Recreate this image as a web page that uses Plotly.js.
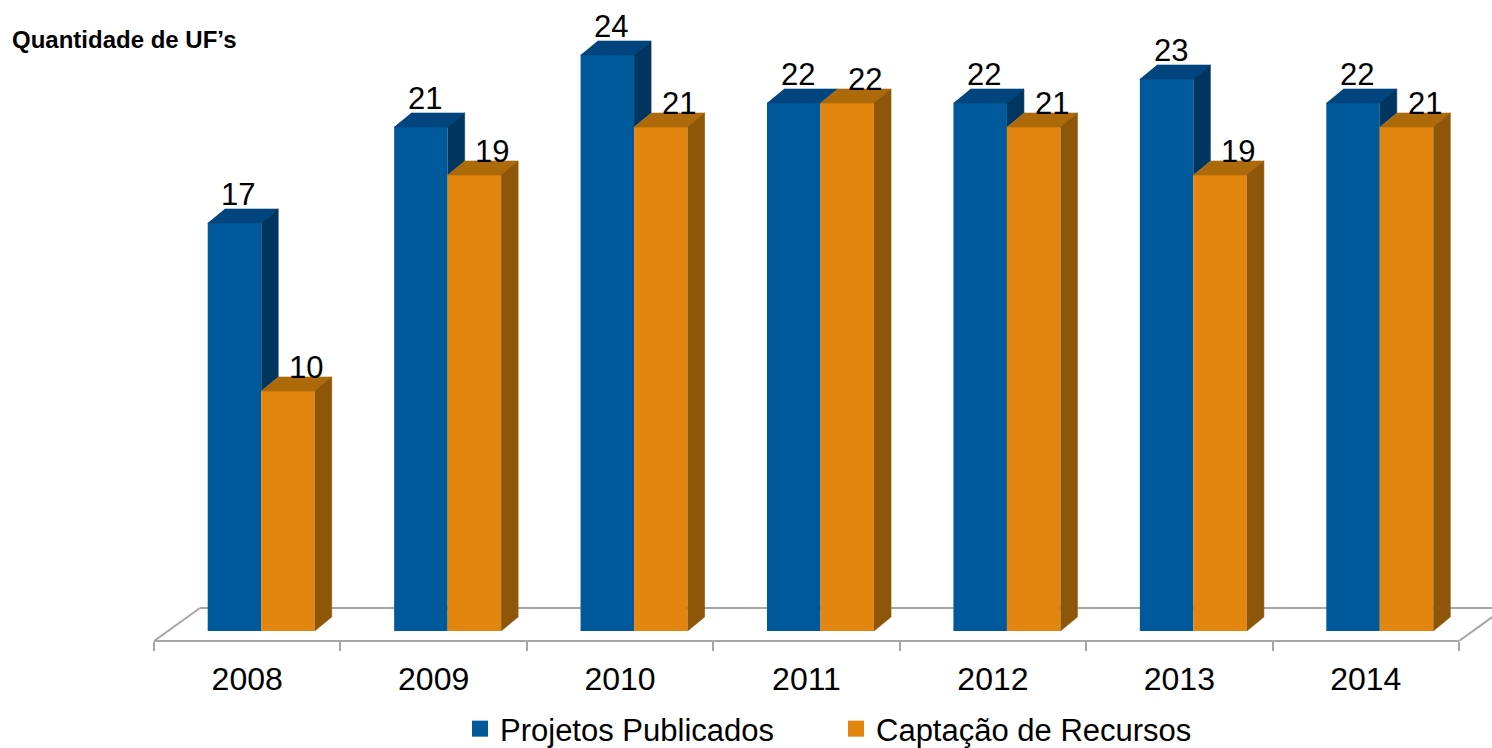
<!DOCTYPE html>
<html>
<head>
<meta charset="utf-8">
<script src="https://cdn.plot.ly/plotly-3.0.1.min.js"></script>
<style>html,body{margin:0;padding:0;background:#fff;}#chart{width:1492px;height:748px;}</style>
</head>
<body>
<div id="chart"></div>
<script>
// ---- data ----
const years = ['2008', '2009', '2010', '2011', '2012', '2013', '2014'];
const projetosPublicados = [17, 21, 24, 22, 22, 23, 22];
const captacaoRecursos = [10, 19, 21, 22, 21, 19, 21];
const seriesNames = ['Projetos Publicados', 'Captação de Recursos'];
const titleText = 'Quantidade de UF’s';

// ---- layout geometry (pixels) ----
const W = 1492, H = 748;
const plotBottom = 641, axisLeft = 154, axisRight = 1459;
const baselinePx = 631, pxPerValue = 24;
const catPx = (axisRight - axisLeft) / years.length;
const xMin = -0.5 - axisLeft / catPx;
const xMax = years.length - 0.5 + (W - axisRight) / catPx;
const yMin = -(plotBottom - baselinePx) / pxPerValue;
const yMax = baselinePx / pxPerValue;
const barW = 53.5 / catPx, pairShift = 14 / catPx;
const dX = 17 / catPx, dY = 14 / pxPerValue;
const floorDX = 46 / catPx, floorDY = 33 / pxPerValue;

const FONT = 'Liberation Sans, Arial, sans-serif';
const blue = {front: 'rgb(0,89,154)', top: 'rgb(1,69,126)', side: 'rgb(0,54,96)'};
const orange = {front: 'rgb(226,134,16)', top: 'rgb(173,106,11)', side: 'rgb(142,86,8)'};

const idx = years.map((_, i) => i);

function polyTrace(polys, color) {
  const x = [], y = [];
  polys.forEach(p => { p.forEach(pt => { x.push(pt[0]); y.push(pt[1]); }); x.push(null); y.push(null); });
  return {type: 'scatter', mode: 'lines', x, y, fill: 'toself', fillcolor: color,
    line: {width: 0.6, color: color}, hoverinfo: 'skip', showlegend: false};
}

const blueTops = [], blueSides = [], orangeTops = [], orangeSides = [];
idx.forEach(i => {
  const vb = projetosPublicados[i], vo = captacaoRecursos[i];
  const bl = i + pairShift - barW, br = i + pairShift, or = br + barW;
  blueTops.push([[bl, vb], [br, vb], [br + dX, vb + dY], [bl + dX, vb + dY]]);
  if (vb > vo) blueSides.push([[br, vo], [br + dX, vo + dY], [br + dX, vb + dY], [br, vb]]);
  orangeTops.push([[br, vo], [or, vo], [or + dX, vo + dY], [br + dX, vo + dY]]);
  orangeSides.push([[or, 0], [or + dX, dY], [or + dX, vo + dY], [or, vo]]);
});

const traces = [
  {type: 'bar', x: idx, y: projetosPublicados, base: 0, width: barW, offset: pairShift - barW,
   marker: {color: blue.front, line: {width: 0}}, showlegend: false, hoverinfo: 'y', name: seriesNames[0]},
  {type: 'bar', x: idx, y: captacaoRecursos, base: 0, width: barW, offset: pairShift,
   marker: {color: orange.front, line: {width: 0}}, showlegend: false, hoverinfo: 'y', name: seriesNames[1]},
  polyTrace(blueTops, blue.top),
  polyTrace(blueSides, blue.side),
  polyTrace(orangeTops, orange.top),
  polyTrace(orangeSides, orange.side),
  {type: 'scatter', mode: 'markers', x: [-10], y: [-10], name: seriesNames[0],
   marker: {symbol: 'square', size: 17, color: blue.front}, hoverinfo: 'skip'},
  {type: 'scatter', mode: 'markers', x: [-10], y: [-10], name: seriesNames[1],
   marker: {symbol: 'square', size: 17, color: orange.front}, hoverinfo: 'skip'}
];

const annotations = [];
idx.forEach(i => {
  const bc = i + pairShift - barW / 2, oc = i + pairShift + barW / 2;
  annotations.push({x: bc, y: projetosPublicados[i], xref: 'x', yref: 'y', text: String(projetosPublicados[i]),
    showarrow: false, yanchor: 'middle', xanchor: 'center', yshift: 29, xshift: 4, font: {family: FONT, size: 31, color: '#000'}});
  annotations.push({x: oc, y: captacaoRecursos[i], xref: 'x', yref: 'y', text: String(captacaoRecursos[i]),
    showarrow: false, yanchor: 'middle', xanchor: 'center', yshift: 24, xshift: 18, font: {family: FONT, size: 31, color: '#000'}});
});

const floorColor = '#a6a6a6';
const xL = -0.5, xR = years.length - 0.5;
const shapes = [
  {type: 'line', xref: 'x', yref: 'paper', x0: xL, y0: 0, x1: xR, y1: 0, line: {color: floorColor, width: 2}, layer: 'below'},
  {type: 'line', xref: 'x', yref: 'y', x0: xL, y0: yMin, x1: xL + floorDX, y1: yMin + floorDY, line: {color: floorColor, width: 2}, layer: 'below'},
  {type: 'line', xref: 'x', yref: 'y', x0: xL + floorDX, y0: yMin + floorDY, x1: xR + floorDX, y1: yMin + floorDY, line: {color: floorColor, width: 2}, layer: 'below'},
  {type: 'line', xref: 'x', yref: 'y', x0: xR, y0: yMin, x1: xR + floorDX, y1: yMin + floorDY, line: {color: floorColor, width: 2}, layer: 'below'}
];

const layout = {
  width: W, height: H,
  margin: {l: 0, r: 0, t: 0, b: H - plotBottom, pad: 0, autoexpand: false},
  paper_bgcolor: '#fff', plot_bgcolor: 'rgba(0,0,0,0)',
  font: {family: FONT, color: '#000'},
  barmode: 'overlay',
  showlegend: true,
  title: {text: '<b>' + titleText + '</b>', x: 12 / W, xanchor: 'left', xref: 'container',
    y: 1 - 40 / H, yanchor: 'middle', yref: 'container', font: {family: FONT, size: 24, color: '#000'}},
  xaxis: {range: [xMin, xMax], showline: false, showgrid: false, zeroline: false,
    tickmode: 'array', tickvals: idx, ticktext: years, ticks: '', ticklabelstandoff: 16,
    tickfont: {family: FONT, size: 32, color: '#000'},
    minor: {tickmode: 'array', tickvals: idx.map(i => i - 0.5).concat([xR]), ticks: 'outside', ticklen: 9, tickwidth: 2, tickcolor: floorColor, showgrid: false},
    fixedrange: true},
  yaxis: {range: [yMin, yMax], visible: false, fixedrange: true},
  legend: {orientation: 'h', xref: 'container', yref: 'container', x: 460 / W, xanchor: 'left', y: (H - 729) / H, yanchor: 'middle',
    font: {family: FONT, size: 31, color: '#000'}, entrywidth: 331, entrywidthmode: 'pixels', bgcolor: 'rgba(0,0,0,0)'},
  annotations: annotations,
  shapes: shapes
};

Plotly.newPlot('chart', traces, layout, {displayModeBar: false, staticPlot: true});
</script>
</body>
</html>
